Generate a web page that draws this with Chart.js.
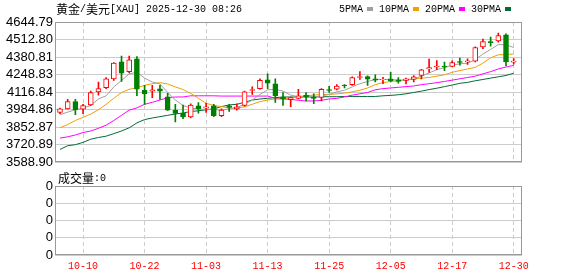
<!DOCTYPE html>
<html><head><meta charset="utf-8">
<script src="https://cdn.jsdelivr.net/npm/chart.js@4/dist/chart.umd.min.js"></script>
<style>
html,body{margin:0;padding:0;background:#fff;}
#wrap{position:relative;width:578px;height:276px;overflow:hidden;}
#main{position:absolute;left:0;top:0;}
#vol{position:absolute;left:0;top:172px;}
</style></head><body>
<div id="wrap">
<canvas id="main" width="578" height="172"></canvas>
<canvas id="vol" width="578" height="104"></canvas>
</div>
<script>
const titleText = '黄金/美元[XAU] 2025-12-30 08:26';
const volTitle = '成交量:0';
const maNames = ['5PMA','10PMA','20PMA','30PMA'];
const maColors = ['#a0a0a0','#f0a000','#ff00ff','#006b35'];

const dates = ['10-07','10-08','10-09','10-10','10-13','10-14','10-15','10-16','10-17','10-20',
  '10-21','10-22','10-23','10-24','10-27','10-28','10-29','10-30','10-31','11-03',
  '11-04','11-05','11-06','11-07','11-10','11-11','11-12','11-13','11-14','11-17',
  '11-18','11-19','11-20','11-21','11-24','11-25','11-26','11-27','11-28','12-01',
  '12-02','12-03','12-04','12-05','12-08','12-09','12-10','12-11','12-12','12-15',
  '12-16','12-17','12-18','12-19','12-22','12-23','12-24','12-26','12-29','12-30'];

const openP = [3964,3991,4045,3988,4020,4119,4151,4217,4345,4271,
  4368,4131,4124,4141,4082,3979,3959,3930,4013,3995,
  4013,3939,4013,3991,4016,4129,4143,4210,4180,4080,
  4060,4070,4092,4080,4077,4136,4138,4170,4173,4227,
  4234,4217,4210,4217,4210,4205,4212,4242,4291,4306,
  4313,4311,4347,4345,4350,4458,4497,4502,4549,4343];
const highP = [3996,4062,4062,4025,4124,4192,4227,4340,4389,4389,
  4385,4168,4168,4168,4107,4025,4020,4028,4038,4033,
  4025,3991,4025,4028,4124,4156,4217,4254,4217,4114,
  4080,4138,4114,4104,4143,4161,4173,4173,4232,4271,
  4239,4247,4229,4266,4227,4222,4242,4288,4365,4355,
  4343,4352,4374,4367,4458,4517,4532,4561,4556,4370];
const lowP = [3954,3988,3947,3954,4015,4094,4143,4205,4197,4261,
  4090,4025,4075,4062,3979,3893,3917,3922,3959,3964,
  3932,3932,3971,3981,4011,4099,4138,4143,4040,4016,
  4008,4065,4050,4030,4050,4114,4134,4148,4168,4212,
  4168,4193,4180,4193,4185,4178,4193,4217,4266,4286,
  4279,4308,4320,4325,4345,4443,4463,4492,4315,4328];
const closeP = [3991,4045,3984,4015,4114,4143,4217,4335,4259,4360,
  4138,4104,4134,4124,3981,3957,3930,4020,3991,4006,
  3939,3981,4001,4006,4119,4136,4205,4185,4089,4065,
  4075,4089,4080,4070,4138,4129,4163,4166,4227,4234,
  4215,4207,4215,4202,4197,4217,4232,4284,4301,4313,
  4306,4340,4340,4352,4453,4497,4490,4542,4345,4350];

const ma5 = [3947,3966,3984,3996,4016,4065,4089,4156,4205,4254,
  4266,4222,4193,4178,4114,4057,4016,3996,3991,3984,
  3986,3981,3991,4001,4025,4057,4099,4134,4138,4124,
  4094,4082,4075,4080,4089,4099,4119,4131,4156,4180,
  4197,4212,4212,4212,4207,4207,4217,4237,4261,4286,
  4301,4320,4330,4335,4360,4404,4438,4475,4473,4453];
const ma10 = [3848,3873,3903,3927,3952,3984,4025,4070,4114,4138,
  4150,4168,4180,4188,4178,4156,4136,4107,4070,4033,
  4016,4008,3996,3996,4006,4025,4045,4057,4065,4065,
  4070,4084,4089,4094,4099,4099,4104,4109,4119,4131,
  4148,4173,4188,4197,4202,4210,4217,4222,4227,4237,
  4247,4266,4279,4291,4303,4335,4375,4398,4400,4404];
const ma20 = [3770,3780,3794,3812,3824,3844,3868,3903,3942,3981,
  3998,4025,4040,4057,4075,4080,4080,4089,4089,4089,
  4089,4087,4087,4087,4087,4087,4087,4087,4070,4065,
  4062,4055,4050,4050,4055,4065,4070,4080,4094,4104,
  4114,4134,4143,4148,4153,4158,4163,4173,4180,4188,
  4197,4207,4217,4227,4237,4254,4271,4291,4306,4318];
const ma30 = [3685,3713,3721,3738,3762,3775,3785,3804,3824,3848,
  3885,3910,3922,3932,3942,3952,3959,3971,3976,3984,
  3991,4008,4020,4025,4040,4057,4065,4070,4075,4080,
  4080,4080,4080,4080,4082,4082,4082,4084,4084,4084,
  4084,4084,4089,4092,4097,4104,4114,4124,4136,4146,
  4158,4170,4183,4190,4202,4212,4222,4232,4242,4259];
const volume = [0,0,0,0,0,0,0,0,0,0, 0,0,0,0,0,0,0,0,0,0,
  0,0,0,0,0,0,0,0,0,0, 0,0,0,0,0,0,0,0,0,0,
  0,0,0,0,0,0,0,0,0,0, 0,0,0,0,0,0,0,0,0,0];

const xTickDates = ['10-10','10-22','11-03','11-13','11-25','12-05','12-17','12-30'];
const yTickLabels = ['4644.79','4512.80','4380.81','4248.83','4116.84','3984.86','3852.87','3720.89','3588.90'];
const volTickLabels = ['0','0','0','0','0'];

const RED = '#ff0000', GREEN = '#008000', GRID = '#cccccc';
const isUp = i => closeP[i] >= openP[i];
const XMIN = -0.65, XMAX = 60.08;

function mixedText(ctx, str, x, y, color) {
  ctx.save();
  ctx.fillStyle = color; ctx.textBaseline = 'middle'; ctx.textAlign = 'left';
  for (const ch of str) {
    const cjk = ch.charCodeAt(0) > 255;
    ctx.font = cjk ? "12px 'Noto Sans CJK SC'" : "10px 'Liberation Mono'";
    ctx.fillText(ch, x, y);
    x += cjk ? 12 : 6;
  }
  ctx.restore();
  return x;
}

const frame = {
  id: 'frame',
  afterDraw(chart) {
    const {ctx, chartArea: a} = chart;
    ctx.save();
    ctx.strokeStyle = '#999'; ctx.lineWidth = 1;
    ctx.strokeRect(Math.round(a.left) + 0.5, Math.round(a.top) + 0.5, Math.round(a.right - a.left) - 1, Math.round(a.bottom - a.top) - 1);
    ctx.restore();
  }
};

const header = {
  id: 'header',
  afterDraw(chart) {
    const ctx = chart.ctx;
    mixedText(ctx, titleText, 56, 9, '#000');
    let x = 339;
    chart.data.datasets.filter(d => d.type === 'line').forEach(d => {
      x = mixedText(ctx, d.label, x, 9, '#000');
      ctx.fillStyle = d.borderColor;
      ctx.fillRect(x + 4, 7, 6, 4);
      x += 16;
    });
  }
};

const xTicks = s => { s.ticks = xTickDates.map(d => ({value: dates.indexOf(d)})); };

const lineSets = [ma5, ma10, ma20, ma30].map((arr, k) => ({
  type: 'line', label: maNames[k],
  data: arr.map((v, i) => ({x: i, y: v})),
  borderColor: maColors[k], borderWidth: 1, pointRadius: 0, fill: false, tension: 0, order: 3
}));

new Chart(document.getElementById('main'), {
  type: 'bar',
  data: {
    datasets: [
      ...lineSets,
      {
        type: 'bar', label: 'body', grouped: false, order: 0,
        data: dates.map((d, i) => ({x: i, y: [openP[i], closeP[i]]})),
        barThickness: 5, borderWidth: 1, borderSkipped: false,
        backgroundColor: c => isUp(c.dataIndex) ? '#ffffff' : GREEN,
        borderColor: c => isUp(c.dataIndex) ? RED : GREEN
      },
      {
        type: 'bar', label: 'wick', grouped: false, order: 1,
        data: dates.map((d, i) => ({x: i, y: [lowP[i], highP[i]]})),
        barThickness: 1, borderWidth: 0,
        backgroundColor: c => isUp(c.dataIndex) ? RED : GREEN
      }
    ]
  },
  options: {
    responsive: false, animation: false, events: [],
    layout: {padding: {left: 0, right: 56, top: 22, bottom: 7}},
    plugins: {legend: {display: false}, tooltip: {enabled: false}},
    scales: {
      x: {
        type: 'linear', min: XMIN, max: XMAX, offset: false,
        afterBuildTicks: xTicks,
        afterFit: s => { s.height = 0; },
        ticks: {display: false},
        grid: {color: GRID, drawTicks: false, offset: false},
        border: {display: false, dash: [4, 3]}
      },
      y: {
        type: 'linear', min: parseFloat(yTickLabels[8]), max: parseFloat(yTickLabels[0]),
        afterBuildTicks: s => { s.ticks = yTickLabels.map(t => ({value: parseFloat(t)})); },
        afterFit: s => { s.width = 55; },
        ticks: {autoSkip: false, padding: 2, color: '#000',
          font: {family: 'Liberation Sans', size: 13},
          callback: (v, i) => yTickLabels[i]},
        grid: {color: GRID, drawTicks: false},
        border: {display: false}
      }
    }
  },
  plugins: [frame, header]
});

const volHeader = {
  id: 'volHeader',
  afterDraw(chart) { mixedText(chart.ctx, volTitle, 58, 6, '#000'); }
};

new Chart(document.getElementById('vol'), {
  type: 'bar',
  data: {
    datasets: [{
      label: '成交量', data: volume.map((v, i) => ({x: i, y: v})),
      backgroundColor: GREEN, barThickness: 5, grouped: false
    }]
  },
  options: {
    responsive: false, animation: false, events: [],
    layout: {padding: {left: 0, right: 56, top: 14, bottom: 0}},
    plugins: {legend: {display: false}, tooltip: {enabled: false}},
    scales: {
      x: {
        type: 'linear', min: XMIN, max: XMAX, offset: false,
        afterBuildTicks: xTicks,
        afterFit: s => { s.height = 21; },
        ticks: {autoSkip: false, maxRotation: 0, padding: 5, color: '#ff0000',
          font: {family: 'Liberation Mono', size: 10},
          callback: (v, i) => xTickDates[i]},
        grid: {color: GRID, drawTicks: false, offset: false},
        border: {display: false, dash: [4, 3]}
      },
      y: {
        type: 'linear', min: 0, max: volTickLabels.length - 1,
        afterBuildTicks: s => { s.ticks = volTickLabels.map((t, i) => ({value: i})); },
        afterFit: s => { s.width = 55; },
        ticks: {autoSkip: false, padding: 2, color: '#000',
          font: {family: 'Liberation Sans', size: 13},
          callback: (v, i) => volTickLabels[i]},
        grid: {color: GRID, drawTicks: false},
        border: {display: false}
      }
    }
  },
  plugins: [frame, volHeader]
});
</script>
</body></html>
